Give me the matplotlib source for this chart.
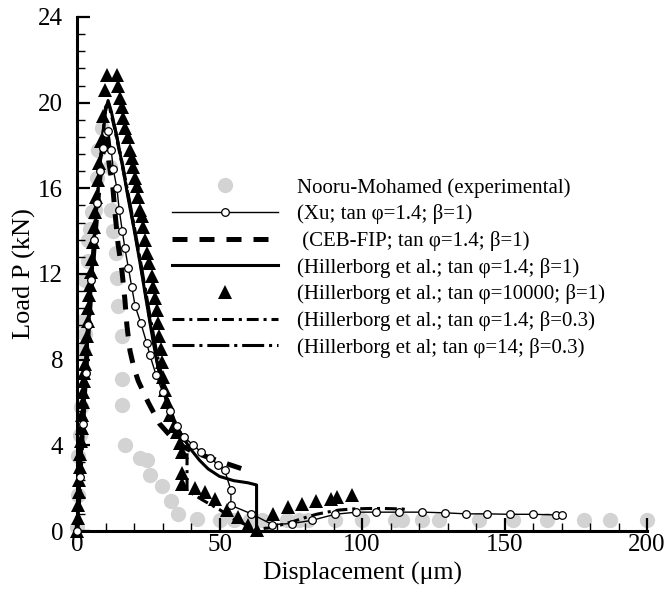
import matplotlib
matplotlib.use("Agg")
import matplotlib.pyplot as plt
from matplotlib.ticker import MultipleLocator

plt.rcParams['font.family'] = ['Liberation Serif', 'DejaVu Serif']

# Nooru-Mohamed experimental points
exp_x = [0.0, 0.2, 0.4, 1.0, 1.5, 2.1, 2.1, 2.8, 2.8, 3.9, 3.9, 4.6, 5.3, 6.3, 7.0, 7.4, 8.8,
         11.6, 12.0, 12.6, 13.7, 14.0, 14.4, 15.8, 15.8, 15.8, 16.8, 22.0, 24.5, 25.6, 29.8,
         33.0, 35.5, 42.0, 50.0, 55.0, 60.7, 65.0, 73.6, 78.0, 81.0, 90.5, 100.0, 111.6,
         114.0, 121.0, 127.0, 141.0, 153.0, 165.0, 178.0, 187.0, 200.0]
exp_y = [0.2, 1.7, 3.5, 4.5, 5.8, 8.4, 9.8, 9.2, 11.7, 12.6, 13.6, 14.1, 14.9, 15.0, 16.5, 17.8, 18.8,
         17.0, 15.0, 14.0, 13.0, 11.8, 10.5, 9.1, 7.1, 5.9, 4.0, 3.4, 3.3, 2.6, 2.1,
         1.4, 0.8, 0.55, 0.5, 0.5, 0.5, 0.5, 0.5, 0.5, 0.5, 0.5, 0.5, 0.5,
         0.5, 0.5, 0.5, 0.5, 0.5, 0.5, 0.5, 0.5, 0.5]

# Xu; tan phi=1.4; beta=1
xu_x = [0, 1, 2, 3, 4, 5, 6, 7, 8, 9, 10, 11, 12, 12.7, 14, 14.8, 15.9, 16.8, 18, 19.2, 20.4,
        22.4, 24.4, 25.6, 27.7, 30, 32.5, 35, 37.5, 40.8, 43.5, 46.7, 49.5, 51.8, 54, 54, 61.2,
        68.5, 75.5, 82.5, 90.5, 98, 105, 113, 121, 129, 136.5, 144, 152, 160, 168, 170]
xu_y = [0, 2.5, 5, 7.4, 9.6, 11.7, 13.6, 15.3, 16.8, 17.9, 18.6, 18.7, 17.8, 16.9, 16, 15, 14, 13.2, 12.3, 11.4, 10.5,
        9.7, 8.8, 8.2, 7.3, 6.5, 5.6, 4.9, 4.4, 4.0, 3.7, 3.4, 3.1, 2.85, 1.9, 1.2, 0.8,
        0.3, 0.35, 0.5, 0.78, 0.88, 0.88, 0.88, 0.88, 0.85, 0.8, 0.8, 0.78, 0.78, 0.75, 0.75]

# CEB-FIP; tan phi=1.4; beta=1
ceb_x = [0, 2, 4, 6, 8, 10, 10.6, 11.2, 12.6, 13.3, 14.4, 15.8, 16.8, 17.5, 18.6, 20, 21.5,
         25, 29, 35, 40.7, 49, 58, 61.4]
ceb_y = [0, 5, 9.5, 13.3, 16.5, 18.5, 18.7, 17.2, 16, 14.9, 13.4, 12.1, 10.8, 9.6, 8.4, 7.6, 7.0,
         6.0, 5.0, 4.1, 3.7, 3.3, 2.9, 2.8]

# Hillerborg et al.; tan phi=1.4; beta=1
hil_x = [0, 2, 4, 6, 8, 10, 10.9, 12, 14, 16, 18, 20, 22, 24, 26, 28, 30, 32, 34, 37, 40, 43,
         46, 50, 55, 60, 63, 63]
hil_y = [0, 5, 9.5, 13.5, 17, 19.6, 20.1, 19.6, 18.4, 17, 15.5, 14.1, 12.6, 11, 9.4, 7.9, 6.7, 5.8,
         5.1, 4.4, 3.8, 3.3, 2.9, 2.55, 2.35, 2.25, 2.15, 0]

# Hillerborg et al.; tan phi=10000; beta=1
tri_x = [0.0, 0.2, 0.4, 0.6, 0.8, 1.0, 1.2, 1.4, 1.6, 1.8, 2.0, 2.2, 2.4, 2.6, 2.8, 3.1, 3.4, 3.7,
         4.0, 4.3, 4.6, 4.9, 5.2, 5.6, 6.0, 6.4, 6.8, 7.3, 7.8, 8.4, 9.1, 9.8, 10.5, 14.0, 14.4,
         15.0, 15.7, 16.2, 16.8, 17.9, 18.6, 19.3, 19.6, 20.4, 21.0, 21.4, 22.1, 22.8, 23.2,
         23.9, 24.6, 25.3, 26.3, 26.7, 27.4, 28.0, 28.4, 28.8, 29.3, 29.8, 30.3, 30.8, 31.5,
         32.6, 34.0, 35.0, 36.0, 37.0, 36.8, 37.0, 41.4, 45.0, 48.4, 52.6, 56.5, 60.0, 63.0,
         68.8, 74.0, 79.0, 84.0, 89.0, 91.2, 96.5]
tri_y = [0.0, 0.6, 1.2, 1.8, 2.4, 3.0, 3.6, 4.2, 4.8, 5.4, 6.0, 6.5, 7.0, 7.4, 7.8, 8.5, 9.1, 9.8,
         10.4, 11.0, 11.5, 12.1, 12.7, 13.5, 14.2, 14.9, 15.6, 16.4, 17.2, 18.2, 19.4, 20.6, 21.3, 21.3, 20.8,
         20.2, 19.8, 19.3, 18.8, 18.4, 17.8, 17.4, 17.0, 16.5, 16.1, 15.6, 15.0, 14.7, 14.2,
         13.6, 13.0, 12.5, 11.9, 11.4, 10.9, 10.3, 9.7, 9.1, 8.5, 7.9, 7.2, 6.6, 6.0,
         5.4, 4.9, 4.6, 4.1, 3.7, 2.7, 2.2, 2.0, 1.8, 1.5, 1.0, 0.65, 0.3, 0.05,
         0.8, 1.1, 1.27, 1.42, 1.5, 1.57, 1.66]

# Hillerborg et al.; tan phi=1.4; beta=0.3
hb3_x = [0, 2, 4, 6, 8, 10, 11, 13, 16, 19, 22, 25, 28, 31, 34, 37, 38.6, 38.6, 44, 50, 55,
         60.7, 64, 68, 72, 76, 80.6, 84, 87.7, 92, 97, 102, 108, 114, 116]
hb3_y = [0, 5, 9.5, 13.5, 17, 19.8, 20, 18.9, 17, 14.9, 12.7, 10.3, 8.0, 6.2, 5.0, 4.3, 4.1, 1.9,
         1.45, 1.0, 0.55, 0.2, 0.1, 0.15, 0.3, 0.45, 0.65, 0.78, 0.88, 0.98, 1.03, 1.05, 1.05, 1.03, 1.0]

# Hillerborg et al; tan phi=14; beta=0.3
h14_x = [0, 2, 4, 6, 8, 10, 11, 13, 16, 19, 22, 25, 28, 31, 34, 37, 38.6]
h14_y = [0, 5, 9.6, 13.6, 17.1, 19.7, 20.0, 19.0, 17.1, 15.0, 12.8, 10.5, 8.3, 6.5, 5.2, 4.4, 4.1]

labels = ["Nooru-Mohamed (experimental)",
          "(Xu; tan φ=1.4; β=1)",
          " (CEB-FIP; tan φ=1.4; β=1)",
          "(Hillerborg et al.; tan φ=1.4; β=1)",
          "(Hillerborg et al.; tan φ=10000; β=1)",
          "(Hillerborg et al.; tan φ=1.4; β=0.3)",
          "(Hillerborg et al; tan φ=14; β=0.3)"]

fig, ax = plt.subplots(figsize=(6.68, 5.90), dpi=100)
fig.subplots_adjust(left=0.1153, right=0.9686, bottom=0.1, top=0.9712)

ax.plot(exp_x, exp_y, 'o', color='#d3d3d3', markersize=11, markeredgewidth=0,
        label=labels[0], clip_on=False, zorder=1)
ax.plot(xu_x, xu_y, '-', color='black', lw=1.0, marker='o', markersize=5.5,
        markerfacecolor='white', markeredgecolor='black', markeredgewidth=0.9,
        label=labels[1], clip_on=False, zorder=4)
ax.plot(ceb_x, ceb_y, color='black', lw=3.6, dashes=(3, 2.4), label=labels[2],
        clip_on=False, zorder=3)
ax.plot(hil_x, hil_y, '-', color='black', lw=2.2, label=labels[3], clip_on=False, zorder=3)
ax.plot(tri_x, tri_y, '^', color='black', markersize=9.5, markeredgewidth=0,
        label=labels[4], clip_on=False, zorder=2)
ax.plot(hb3_x, hb3_y, color='black', lw=2.2, dashes=(3.9, 1.6, 1, 1.6), label=labels[5],
        clip_on=False, zorder=3)
ax.plot(h14_x, h14_y, color='black', lw=2.2, dashes=(7.2, 1.6, 1, 1.6), label=labels[6],
        clip_on=False, zorder=3)

ax.set_xlim(0, 200)
ax.set_ylim(0, 24)
ax.xaxis.set_major_locator(MultipleLocator(50))
ax.xaxis.set_minor_locator(MultipleLocator(10))
ax.yaxis.set_major_locator(MultipleLocator(4))
ax.yaxis.set_minor_locator(MultipleLocator(0.8))

for side in ['top', 'right']:
    ax.spines[side].set_visible(False)
for side in ['left', 'bottom']:
    ax.spines[side].set_linewidth(2.2)

ax.tick_params(which='major', direction='in', length=9.5, width=1.6, labelsize=18, pad=2)
ax.tick_params(which='minor', direction='in', length=5.5, width=1.0)
ax.tick_params(axis='y', which='major', pad=10)

ax.set_xlabel("Displacement (μm)", fontsize=18.5)
ax.set_ylabel("Load P (kN)", fontsize=19)
ax.xaxis.set_label_coords(0.5, -0.0603)
ax.yaxis.set_label_coords(-0.072, 0.5)

ax.legend(loc='upper left', bbox_to_anchor=(0.167, 0.6867), frameon=False,
          fontsize=15, handlelength=5.1, handletextpad=0.9, labelspacing=0.32,
          borderpad=0, borderaxespad=0, numpoints=1)

fig.savefig("out.png", dpi=100)
